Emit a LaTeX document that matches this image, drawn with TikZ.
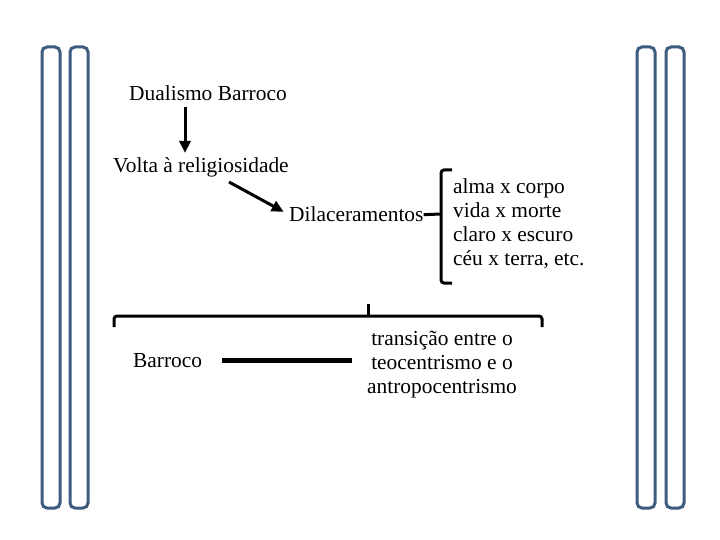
\documentclass[tikz,border=0pt]{standalone}
\usepackage{fontspec}
\setmainfont{Liberation Serif}
\usetikzlibrary{arrows.meta}
\definecolor{barcol}{RGB}{62,91,128}
\begin{document}
\begin{tikzpicture}[x=1pt, y=-1pt,
    txt/.style={inner sep=0pt, font=\fontsize{21.4}{24}\selectfont},
    seta/.style={-{Triangle[length=12pt,width=11pt]}, line width=3pt},
    chave/.style={line width=3pt, rounded corners=3pt},
    barra/.style={draw=barcol, line width=3pt, rounded corners=5pt}]

      \useasboundingbox (0,0) rectangle (720,540);

      % colunas laterais
      \foreach \x in {42, 70, 637, 666} {
          \draw[barra] (\x,47) rectangle ++(18,461);
        }

      \node[txt, anchor=base west] (dual) at (129,101) {Dualismo Barroco};
      \node[txt, anchor=base west] (volta) at (113,173) {Volta à religiosidade};
      \node[txt, anchor=base west] (dila) at (289,222) {Dilaceramentos};
      \node[txt, anchor=north west, align=left] (pares) at (453,178)
        {alma x corpo\\vida x morte\\claro x escuro\\céu x terra, etc.};

      \node[txt, anchor=base west] (barroco) at (133,367) {Barroco};
      \node[txt, align=center] (trans) at (442,365)
        {transição entre o\\teocentrismo e o\\antropocentrismo};

      \coordinate (col) at (185,0);
      \draw[seta, shorten <=6pt, shorten >=5pt] (dual.south -| col) -- (volta.north -| col);
      \coordinate (v1) at (229,182);
      \draw[seta, shorten >=6pt] (v1) -- (dila.west);

      % chave dos pares
      \draw[chave] (452,170) -| (441,283) -- (452,283);
      \draw[line width=3pt] (dila.east) -- (441,214);

      % chave horizontal
      \draw[chave] (114,327) |- (542,316) -- (542,327);
      \draw[line width=3pt] (368,317) -- (368,304);

      \draw[line width=5pt, shorten <=20pt, shorten >=15pt] (barroco.east) -- (barroco.east -| trans.west);

    \end{tikzpicture}
\end{document}
